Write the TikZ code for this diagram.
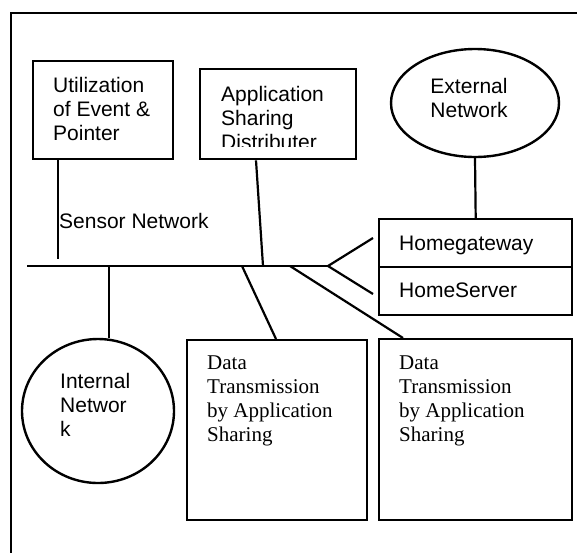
\documentclass[tikz,border=0pt]{standalone}
\usepackage{fontspec}
\setmainfont{Liberation Serif}
\setsansfont{Liberation Sans}
\usetikzlibrary{shapes.geometric}
\begin{document}
\begin{tikzpicture}[x=1pt,y=-1pt,
  frame/.style={line width=2.6pt},
  boxst/.style={draw, rectangle, line width=2.4pt, inner sep=0pt, anchor=north west},
  netst/.style={draw, ellipse, line width=2.4pt, inner sep=0pt},
  conn/.style={line width=2.2pt},
  % multi-line labels are placed by the baseline of their last line
  lbl/.style={inner sep=0pt, anchor=base west, align=left, font=\fontsize{21}{24}\selectfont\sffamily},
  slbl/.style={lbl, font=\fontsize{21}{24}\selectfont\rmfamily},
]
\useasboundingbox (0,0) rectangle (577,552);
\fill[white] (0,0) rectangle (577,552);
% outer frame, open to the right and bottom
\draw[frame] (580,13) -- (11,13) -- (11,555);

% upper boxes
\node[boxst, minimum width=140pt, minimum height=98pt] (util) at (32,60) {};
\node[lbl] (utilt) at (53,140) {Utilization\\of Event \&\\Pointer};
\node[boxst, minimum width=156pt, minimum height=90pt] (asd) at (199,68) {};
\begin{scope}
  % the last line overflows its box and is cut off
  \clip (199,68) rectangle (355,146);
  \node[lbl] (asdt) at (221,149) {Application\\Sharing\\Distributer};
\end{scope}

% external network and gateway / server
\node[netst, minimum width=168pt, minimum height=108pt] (ext) at (475,103) {};
\node[lbl, anchor=base, align=center] (extt) at (469,117) {External\\Network};
\node[boxst, minimum width=193pt, minimum height=48pt] (hg) at (378,218) {};
\node[boxst, minimum width=193pt, minimum height=48pt] (hs) at (378,266) {};
\node[lbl] (hgt) at (399,250) {Homegateway};
\node[lbl] (hst) at (399,297) {HomeServer};

\node[lbl] (sens) at (59,228) {Sensor Network};

% internal network
\node[netst, minimum width=152pt, minimum height=144pt] (int) at (98,411) {};
\node[lbl] (intt) at (60,436) {Internal\\Networ\\k};

% data transmission boxes
\node[boxst, minimum width=180pt, minimum height=180pt] (dt1) at (186,339) {};
\node[slbl] (dt1t) at (207,441) {Data\\Transmission\\by Application\\Sharing};
\node[boxst, minimum width=193pt, minimum height=181pt] (dt2) at (378,338) {};
\node[slbl] (dt2t) at (399,441) {Data\\Transmission\\by Application\\Sharing};

% bus and taps
\coordinate (busL) at (27,266);
\coordinate (fork) at (328,266);
\coordinate (tapI) at (109,266);
\coordinate (tapD1) at (242,266);
\coordinate (tapA) at (263,266);
\coordinate (tapD2) at (290,266);
\coordinate (utilend) at (58,259);
\coordinate (hgend) at (373,238);
\coordinate (hsend) at (373,294);

\draw[conn] (busL) -- (fork);
\draw[conn] (hgend) -- (fork) -- (hsend);
\draw[conn] ([xshift=26pt]util.south west) -- (utilend);
\draw[conn] ([xshift=57pt]asd.south west) -- (tapA);
\draw[conn] (ext.south) -- (hg.north);
\draw[conn] (tapI) -- (tapI |- int.north);
\draw[conn] (tapD1) -- ([xshift=90pt]dt1.north west);
\draw[conn] (tapD2) -- ([xshift=25pt]dt2.north west);
\end{tikzpicture}
\end{document}
